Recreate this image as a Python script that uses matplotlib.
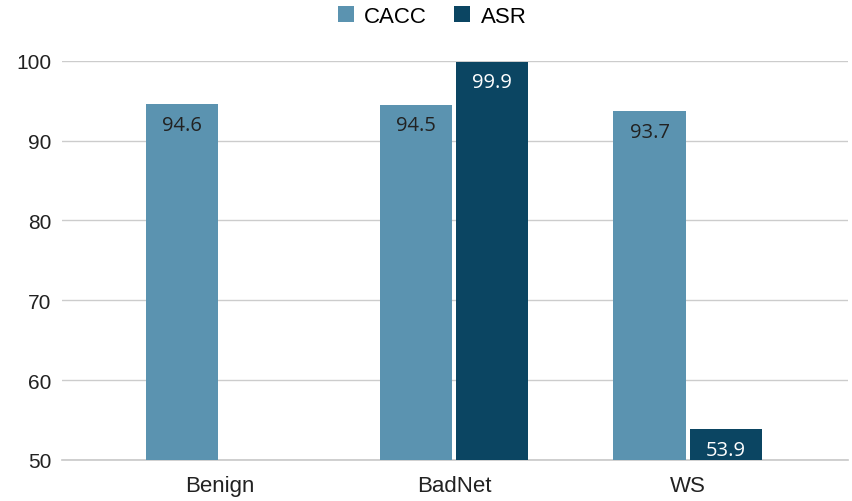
import numpy as np
import matplotlib.pyplot as plt

# grouped scores per attack setting
groups = ["Benign", "BadNet", "WS"]
cacc = [94.6, 94.5, 93.7]
asr = [None, 99.9, 53.9]
series_names = ["CACC", "ASR"]
y_ticks = [50, 60, 70, 80, 90, 100]

c_cacc = "#5B93B0"
c_asr = "#0B4562"

plt.rcParams["font.family"] = ["Liberation Sans", "DejaVu Sans"]

fig = plt.figure(figsize=(8.52, 5.02), dpi=100)
ax = fig.add_axes([0.073, 0.082, 0.922, 0.795])

x = np.arange(len(groups))
w = 0.31
off = 0.163

base = y_ticks[0]
cacc_h = [v - base for v in cacc]
asr_x = [xi + off for xi, v in zip(x, asr) if v is not None]
asr_v = [v for v in asr if v is not None]
asr_h = [v - base for v in asr_v]

ax.bar(x - off, cacc_h, w, bottom=base, color=c_cacc, label=series_names[0], zorder=3)
ax.bar(asr_x, asr_h, w, bottom=base, color=c_asr, label=series_names[1], zorder=3)

lbl_font = ["Open Sans", "DejaVu Sans"]
for xi, v in zip(x - off, cacc):
    ax.annotate(f"{v:.1f}", (xi, v), xytext=(0, -15), textcoords="offset points",
                ha="center", va="center", fontsize=14.5, color="#222222",
                family=lbl_font, zorder=4)
for xi, v in zip(asr_x, asr_v):
    ax.annotate(f"{v:.1f}", (xi, v), xytext=(0, -15), textcoords="offset points",
                ha="center", va="center", fontsize=14.5, color="white",
                family=lbl_font, zorder=4)

ax.set_ylim(50, 100)
ax.set_xlim(-0.675, 2.684)
ax.set_yticks(y_ticks)
ax.set_xticks(x)
ax.set_xticklabels(groups, fontsize=16, color="#222222")
ax.tick_params(axis="y", labelsize=15, labelcolor="#222222", length=0, pad=8)
ax.tick_params(axis="x", length=0, pad=11)
ax.yaxis.grid(True, color="#cccccc", linewidth=1, zorder=0)
# baseline at the bottom of the range
ax.axhline(base, color="#c8c8c8", linewidth=1.2, zorder=2, clip_on=False)
for s in ax.spines.values():
    s.set_visible(False)

fig.legend(loc="center", bbox_to_anchor=(0.507, 0.965), ncol=2, frameon=False,
           fontsize=16, handlelength=0.75, handleheight=0.75,
           handletextpad=0.45, columnspacing=1.2)

fig.savefig("out.png", dpi=100)
